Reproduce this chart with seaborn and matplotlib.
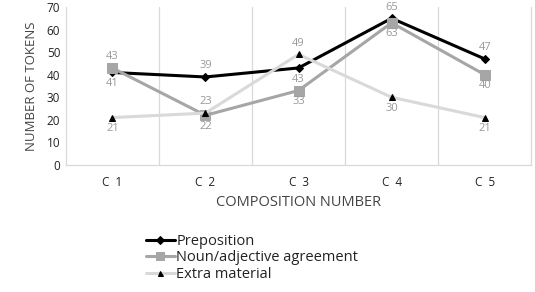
import matplotlib
matplotlib.use("Agg")
import matplotlib.pyplot as plt
import seaborn as sns
import pandas as pd

# data
categories = ["C  1", "C  2", "C  3", "C  4", "C  5"]
preposition = [41, 39, 43, 65, 47]
noun_adj = [43, 22, 33, 63, 40]
extra = [21, 23, 49, 30, 21]

# label placement: 1 = above, -1 = below
prep_pos = [-1, 1, -1, 1, 1]
noun_pos = [1, -1, -1, -1, -1]
extra_pos = [-1, 1, 1, -1, -1]

sns.set_theme(style="white")
plt.rcParams["font.family"] = ["Open Sans", "DejaVu Sans"]

fig = plt.figure(figsize=(5.35, 2.92), dpi=100)
ax = fig.add_axes([0.123, 0.435, 0.870, 0.541])

series = [
    ("Preposition", preposition, prep_pos, "black", "D", "black", 4.5),
    ("Noun/adjective agreement", noun_adj, noun_pos, "#a6a6a6", "s", "#a6a6a6", 7),
    ("Extra material", extra, extra_pos, "#d9d9d9", "^", "black", 4.5),
]

for name, vals, pos, col, mk, mcol, ms in series:
    df = pd.DataFrame({"cat": categories, "val": vals})
    sns.lineplot(data=df, x="cat", y="val", ax=ax, color=col, linewidth=2.2,
                 marker=mk, markersize=ms, markerfacecolor=mcol,
                 markeredgecolor=mcol, label=name, sort=False)
    for i, (v, p) in enumerate(zip(vals, pos)):
        ax.annotate(str(v), (i, v), xytext=(0, 8 * p), textcoords="offset points",
                    ha="center", va="center", fontsize=8, color="#999999")

ax.set_xlim(-0.5, 4.5)
ax.set_ylim(0, 70)
ax.set_yticks(range(0, 71, 10))
for b in [0.5, 1.5, 2.5, 3.5]:
    ax.axvline(b, color="#d9d9d9", linewidth=0.9, zorder=0)

ax.spines["top"].set_visible(False)
for s in ["left", "right", "bottom"]:
    ax.spines[s].set_color("#d9d9d9")
    ax.spines[s].set_linewidth(0.9)

ax.tick_params(axis="both", length=0, labelsize=8.5, colors="#222222", pad=4)
ax.tick_params(axis="x", pad=8)
ax.set_xlabel("COMPOSITION NUMBER", fontsize=10.5, color="#444444", labelpad=4)
ax.set_ylabel("NUMBER OF TOKENS", fontsize=9.5, color="#444444", labelpad=6)

leg = ax.legend(loc="upper left", bbox_to_anchor=(0.172, -0.435), frameon=False,
                fontsize=10.5, handlelength=2.0, handletextpad=0.1, labelspacing=0.1,
                borderaxespad=0, borderpad=0, markerscale=0.8)
for t in leg.get_texts():
    t.set_color("#222222")

fig.savefig("out.png", dpi=100)
